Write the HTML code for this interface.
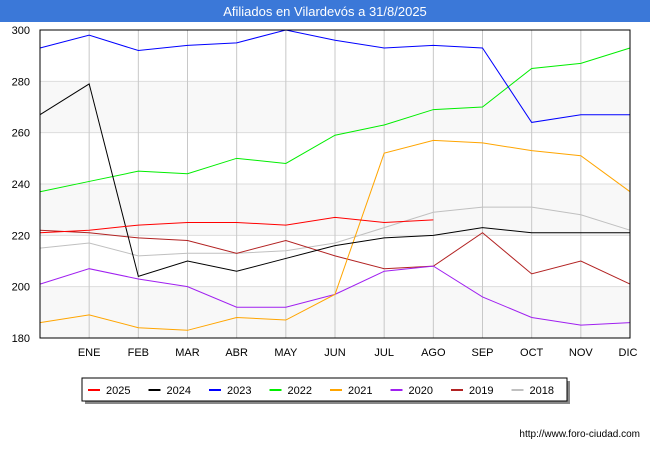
<!DOCTYPE html>
<html><head><meta charset="utf-8"><style>
body{margin:0;width:650px;height:450px;background:#fff;font-family:"Liberation Sans",sans-serif;overflow:hidden}
</style></head><body>
<svg width="650" height="450" id="svg">
<rect x="0" y="0" width="650" height="22" fill="#3b78d8"/>
<text x="325" y="16" fill="#fff" font-size="13" text-anchor="middle">Afiliados en Vilardevós a 31/8/2025</text>
<g id="grid"></g><g id="lines"></g>
<rect x="40" y="30" width="590" height="308" fill="none" stroke="#000"/>
<rect x="85" y="381" width="485" height="23" fill="#888"/>
<rect x="82" y="378" width="485" height="23" fill="#fff" stroke="#000"/>
<g id="legend"></g>
<text x="640" y="437" font-size="10" text-anchor="end">http://www.foro-ciudad.com</text>
</svg>
<script>
const months=["","ENE","FEB","MAR","ABR","MAY","JUN","JUL","AGO","SEP","OCT","NOV","DIC"];
const yTicks=[180,200,220,240,260,280,300];
const seriesNames=["2025","2024","2023","2022","2021","2020","2019","2018"];
const colors=["#ff0000","#000000","#0000ff","#00ee00","#ffa500","#a020f0","#b22222","#c0c0c0"];
const s2025=[221,222,224,225,225,224,227,225,226];
const s2024=[267,279,204,210,206,211,216,219,220,223,221,221,221];
const s2023=[293,298,292,294,295,300,296,293,294,293,264,267,267];
const s2022=[237,241,245,244,250,248,259,263,269,270,285,287,293];
const s2021=[186,189,184,183,188,187,197,252,257,256,253,251,237];
const s2020=[201,207,203,200,192,192,197,206,208,196,188,185,186];
const s2019=[222,221,219,218,213,218,212,207,208,221,205,210,201];
const s2018=[215,217,212,213,213,214,217,223,229,231,231,228,222];
const all=[s2025,s2024,s2023,s2022,s2021,s2020,s2019,s2018];
const NS="http://www.w3.org/2000/svg";
const X=i=>40+i*(590/12), Y=v=>338-(v-180)*308/120;
const g=document.getElementById('grid'),L=document.getElementById('lines'),lg=document.getElementById('legend');
function mk(t,a,p){const e=document.createElementNS(NS,t);for(const k in a)e.setAttribute(k,a[k]);p.appendChild(e);return e;}
for(let k=0;k<yTicks.length-1;k++){if(k%2==0){const r=mk('rect',{x:40,y:Y(yTicks[k+1]),width:590,height:Y(yTicks[k])-Y(yTicks[k+1]),fill:'#f8f8f8'},g);

}}
yTicks.forEach(v=>{const l=mk('line',{x1:40,x2:630,y1:Y(v),y2:Y(v),stroke:'#ddd'},g);


const t=mk('text',{x:30,y:Y(v)+4,'font-size':11,'text-anchor':'end'},g);t.textContent=v;

});
months.forEach((m,i)=>{if(i>0){const l=mk('line',{x1:X(i),x2:X(i),y1:30,y2:338,stroke:'#c8c8c8'},g);

}
if(m){const t=mk('text',{x:Math.min(X(i),628),y:356,'font-size':11,'text-anchor':i==12?'middle':'middle'},g);t.textContent=m;

}});
all.slice().reverse().forEach((s,ri)=>{const k=all.length-1-ri;
const p=mk('polyline',{points:s.map((v,i)=>X(i)+','+Y(v)).join(' '),fill:'none',stroke:colors[k],'stroke-width':1},L);

});
seriesNames.forEach((n,k)=>{const x=88+k*60.5;
const l=mk('line',{x1:x,x2:x+12,y1:390,y2:390,stroke:colors[k],'stroke-width':2},lg);


const t=mk('text',{x:x+18,y:394,'font-size':11},lg);t.textContent=n;

});
</script>
</body></html>
